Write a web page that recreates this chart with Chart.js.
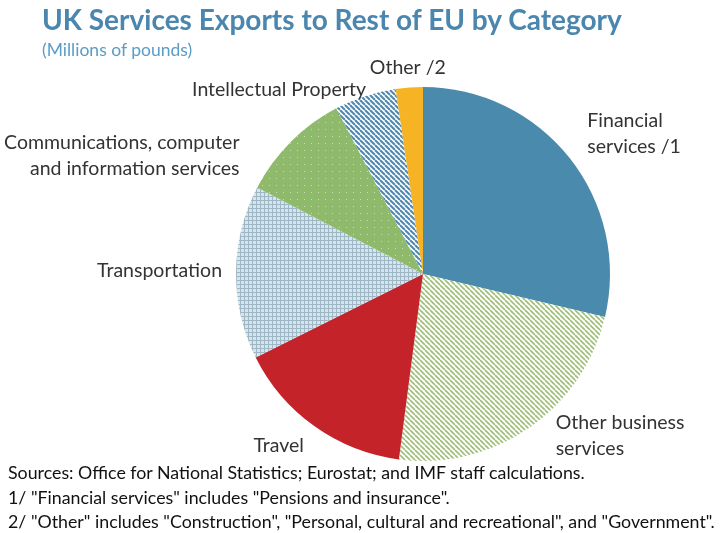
<!DOCTYPE html>
<html lang="en">
<head>
  <meta charset="UTF-8">
  <title>UK Services Exports to Rest of EU by Category</title>
  <script src="https://cdn.jsdelivr.net/npm/chart.js"></script>
  <style>
    body {
      margin: 0;
      background: #fff;
      font-family: Lato, 'Open Sans', sans-serif;
    }
    #wrap {
      position: relative;
      width: 724px;
      height: 533px;
      overflow: hidden;
    }
    #grafico {
      position: absolute;
      left: 0;
      top: 0;
    }
    #titulo {
      position: absolute;
      left: 42px;
      top: 2px;
      font-size: 28px;
      font-weight: bold;
      color: #4a86ad;
      white-space: nowrap;
    }
    #sub {
      position: absolute;
      left: 42px;
      top: 39px;
      font-size: 17.5px;
      color: #5a9cc6;
    }
    #notas {
      position: absolute;
      left: 8px;
      top: 460px;
      font-size: 17.8px;
      line-height: 24.5px;
      color: #111;
      white-space: nowrap;
    }
  </style>
</head>
<body>
  <div id="wrap">
    <canvas id="grafico" width="724" height="533"></canvas>
    <div id="titulo">UK Services Exports to Rest of EU by Category</div>
    <div id="sub">(Millions of pounds)</div>
    <div id="notas">
      Sources: Office for National Statistics; Eurostat; and IMF staff calculations.<br>
      1/ "Financial services" includes "Pensions and insurance".<br>
      2/ "Other" includes "Construction", "Personal, cultural and recreational", and "Government".
    </div>
  </div>

  <script>
    // categorias e valores (milhões de libras)
    const categorias = [
      ['Financial', 'services /1'],
      ['Other business', 'services'],
      ['Travel'],
      ['Transportation'],
      ['Communications, computer', 'and information services'],
      ['Intellectual Property'],
      ['Other /2']
    ];
    const valores = [25800, 21000, 14000, 13500, 8700, 4800, 2100];

    // ajuste fino da posição de cada rótulo (px)
    const ajusteRotulo = [[2, -12], [15, -9], [1, 3], [6, -1], [-37, 28], [7, 13], [0, 0]];

    function padrao(tipo) {
      const c = document.createElement('canvas');
      const g = c.getContext('2d');
      if (tipo === 'listraVerde' || tipo === 'listraAzul') {
        const s = 5;
        c.width = s; c.height = s;
        g.fillStyle = '#fff';
        g.fillRect(0, 0, s, s);
        g.strokeStyle = tipo === 'listraVerde' ? '#9dbd78' : '#4f87ae';
        g.lineWidth = tipo === 'listraVerde' ? 1.6 : 2;
        for (let k = -1; k <= 1; k++) {
          g.beginPath();
          g.moveTo(k * s, 0);
          g.lineTo(k * s + s, s);
          g.stroke();
        }
      } else if (tipo === 'xadrez') {
        c.width = 4; c.height = 4;
        g.fillStyle = '#d3e6ef';
        g.fillRect(0, 0, 4, 4);
        g.fillStyle = '#9fb6c4';
        g.fillRect(0, 0, 4, 1);
        g.fillRect(0, 0, 1, 4);
      } else if (tipo === 'pontos') {
        c.width = 7; c.height = 7;
        g.fillStyle = '#8fba6b';
        g.fillRect(0, 0, 7, 7);
        g.fillStyle = '#c8ddb4';
        g.fillRect(3, 3, 1, 1);
      }
      return g.createPattern(c, 'repeat');
    }

    const cores = [
      '#4a8aad',
      padrao('listraVerde'),
      '#c4232a',
      padrao('xadrez'),
      padrao('pontos'),
      padrao('listraAzul'),
      '#f6b324'
    ];

    // rótulos fora das fatias
    const rotulos = {
      id: 'rotulos',
      afterDatasetsDraw(chart) {
        const ctx = chart.ctx;
        const arcos = chart.getDatasetMeta(0).data;
        ctx.save();
        ctx.font = '19.5px Lato, sans-serif';
        ctx.fillStyle = '#333';
        arcos.forEach((arco, i) => {
          const p = arco.getProps(['x', 'y', 'startAngle', 'endAngle', 'outerRadius'], true);
          const meio = (p.startAngle + p.endAngle) / 2;
          const r = p.outerRadius + 20;
          const cx = Math.cos(meio), sy = Math.sin(meio);
          const x = p.x + cx * r + ajusteRotulo[i][0];
          const y = p.y + sy * r + ajusteRotulo[i][1];
          ctx.textAlign = cx > 0.2 ? 'left' : (cx < -0.2 ? 'right' : 'center');
          ctx.textBaseline = 'middle';
          const linhas = categorias[i];
          const alt = 26;
          linhas.forEach((t, j) => {
            ctx.fillText(t, x, y + (j - (linhas.length - 1) / 2) * alt);
          });
        });
        ctx.restore();
      }
    };

    new Chart(document.getElementById('grafico'), {
      type: 'pie',
      data: {
        labels: categorias.map(l => l.join(' ')),
        datasets: [{
          data: valores,
          backgroundColor: cores,
          borderWidth: 0
        }]
      },
      options: {
        responsive: false,
        animation: false,
        layout: {
          padding: { top: 87, bottom: 72, left: 236, right: 114 }
        },
        plugins: {
          legend: { display: false },
          tooltip: { enabled: false }
        }
      },
      plugins: [rotulos]
    });
  </script>
</body>
</html>
